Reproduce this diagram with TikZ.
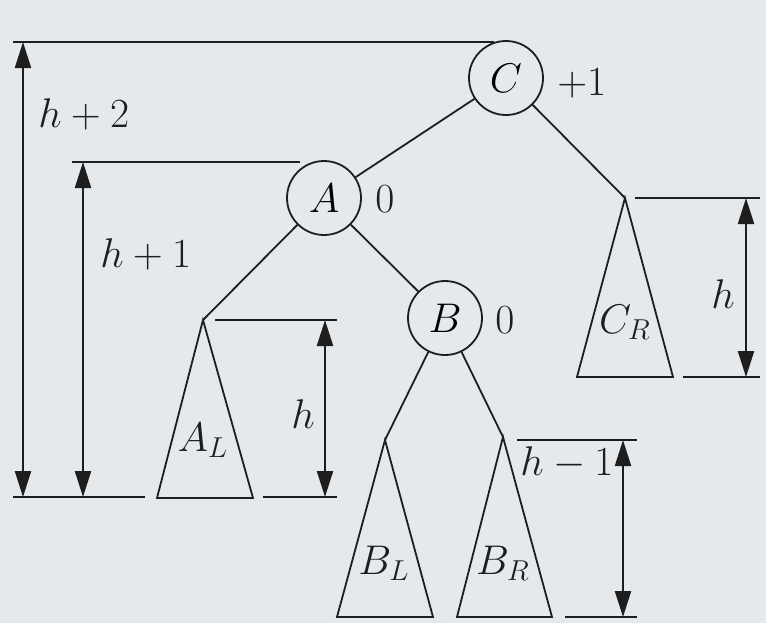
\documentclass[tikz,border=0pt]{standalone}
\usetikzlibrary{arrows.meta}
\definecolor{bg}{HTML}{E6E9EC}
\definecolor{ink}{HTML}{1E1E1E}
\begin{document}
\begin{tikzpicture}[x=0.5pt,y=-0.5pt,
  font=\fontsize{21}{25}\selectfont,
  vert/.style={circle,draw=ink,line width=0.9pt,minimum size=37pt,inner sep=0pt},
  edge/.style={draw=ink,line width=0.9pt},
  subtree/.style={draw=ink,line width=0.9pt,line join=miter},
  ext/.style={draw=ink,line width=1.3pt},
  dimline/.style={draw=ink,line width=1.1pt,{Triangle[length=13pt,width=8pt]}-{Triangle[length=13pt,width=8pt]}},
  lbl/.style={inner sep=0pt,text=ink}]
\fill[bg] (0,0) rectangle (766,623);
\useasboundingbox (0,0) rectangle (766,623);

% nodes
\node[vert] (C) at (506,78) {$C$};
\node[vert] (A) at (324,198) {$A$};
\node[vert] (B) at (445,318) {$B$};
\node[lbl,anchor=base west] (bC) at (557,95) {$+1$};
\node[lbl,anchor=base west] (bA) at (375,212) {$0$};
\node[lbl,anchor=base west] (bB) at (495,333) {$0$};

% subtree apexes
\coordinate (AL) at (203,320);
\coordinate (CR) at (625,198);
\coordinate (BL) at (385,440);
\coordinate (BR) at (503,437);

% edges
\draw[edge] (C) -- (A);
\draw[edge] (C) -- (CR);
\draw[edge] (A) -- (AL);
\draw[edge] (A) -- (B);
\draw[edge] (B) -- (BL);
\draw[edge] (B) -- (BR);

% subtrees
\draw[subtree] (AL) -- (157,498) -- (253,498) -- cycle;
\draw[subtree] (CR) -- (577,377) -- (673,377) -- cycle;
\draw[subtree] (BL) -- (337,617) -- (433,617) -- cycle;
\draw[subtree] (BR) -- (457,617) -- (552,617) -- cycle;
\node[lbl] (tAL) at (203,440) {$A_L$};
\node[lbl] (tCR) at (625,322) {$C_R$};
\node[lbl] (tBL) at (384,563) {$B_L$};
\node[lbl] (tBR) at (503,563) {$B_R$};

% extension lines
\coordinate (e1a) at (13,42);  \coordinate (e1b) at (494,42);
\coordinate (e2a) at (13,497); \coordinate (e2b) at (145,497);
\coordinate (e3a) at (72,162); \coordinate (e3b) at (300,162);
\coordinate (e4a) at (215,320); \coordinate (e4b) at (337,320);
\coordinate (e5a) at (263,497); \coordinate (e5b) at (337,497);
\coordinate (e6a) at (635,198); \coordinate (e6b) at (760,198);
\coordinate (e7a) at (683,377); \coordinate (e7b) at (760,377);
\coordinate (e8a) at (517,440); \coordinate (e8b) at (637,440);
\coordinate (e9a) at (565,617); \coordinate (e9b) at (637,617);
\foreach \i in {1,...,9} {\draw[ext] (e\i a) -- (e\i b);}

% dimension arrows
\coordinate (d1t) at (23,42);   \coordinate (d1b) at (23,497);
\coordinate (d2t) at (83,162);  \coordinate (d2b) at (83,497);
\coordinate (d3t) at (325,320); \coordinate (d3b) at (325,497);
\coordinate (d4t) at (746,198); \coordinate (d4b) at (746,377);
\coordinate (d5t) at (623,440); \coordinate (d5b) at (623,617);
\foreach \i in {1,...,5} {\draw[dimline] (d\i t) -- (d\i b);}

% dimension labels
\node[lbl,anchor=base west] (l1) at (38,127) {$h+2$};
\node[lbl,anchor=base west] (l2) at (100,267) {$h+1$};
\node[lbl] (l3) at (303,414) {$h$};
\node[lbl] (l4) at (723,294) {$h$};
\node[lbl,anchor=base west] (l5) at (520,475) {$h-1$};
\end{tikzpicture}
\end{document}
